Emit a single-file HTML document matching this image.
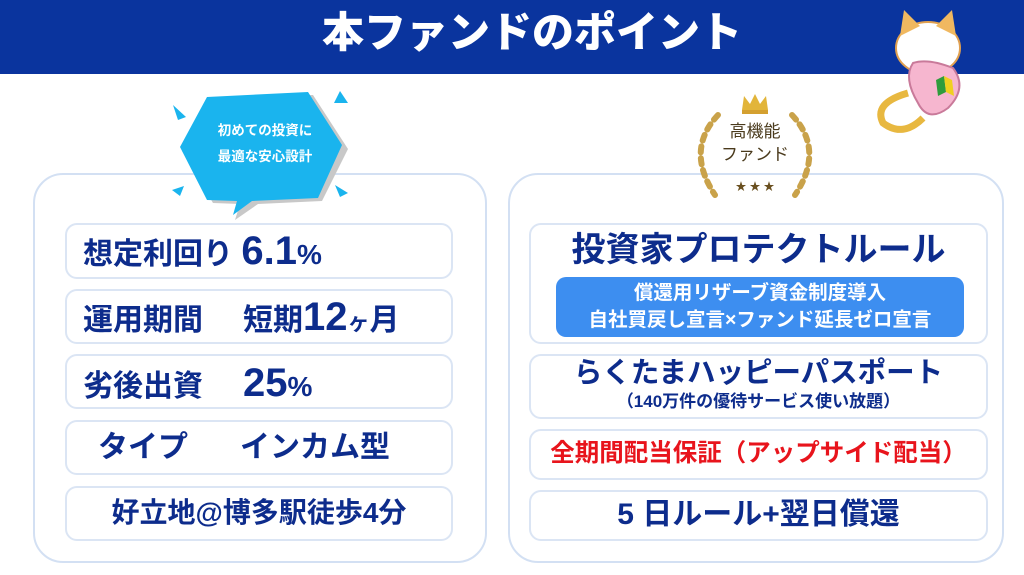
<!DOCTYPE html>
<html><head><meta charset="utf-8"><style>
*{margin:0;padding:0;box-sizing:border-box}
body{width:1024px;height:575px;background:#fff;position:relative;overflow:hidden;font-family:"Liberation Sans","Noto Sans CJK JP",sans-serif;font-weight:bold;color:#0d2c8c}
.a{position:absolute;white-space:nowrap}
.hdr{left:0;top:0;width:1024px;height:74px;background:#0a349e}
.panel{border:2px solid #d3e0f3;border-radius:30px;background:#fff}
.row{border:2px solid #dbe5f4;border-radius:12px;background:#fff}
.c{text-align:center}
</style></head><body>
<div class="a hdr"></div>
<div class="a" style="left:20px;width:1024px;top:3px;text-align:center;color:#fff;font-size:42px;line-height:60px;font-weight:900">本ファンドのポイント</div>

<div class="a panel" style="left:33px;top:173px;width:454px;height:390px"></div>
<div class="a panel" style="left:508px;top:173px;width:496px;height:390px"></div>

<!-- bubble -->
<svg class="a" style="left:170px;top:85px" width="190" height="140">
<polygon points="41,14 143,10 178,64 152,116 88,119 65,135 70,119 43,118 12,66" fill="#c8c8c8"/>
<polygon points="37,12 138,7 172,60 148,113 82,116 63,130 67,116 37,115 10,62" fill="#1ab4ee"/>
<polygon points="3,20 16,32 8,35" fill="#1ab4ee"/><polygon points="170,6 178,18 164,18" fill="#1ab4ee"/>
<polygon points="2,105 14,101 10,111" fill="#1ab4ee"/><polygon points="165,100 178,108 170,112" fill="#1ab4ee"/>
</svg>
<div class="a c" style="left:195px;top:118px;width:140px;color:#fff;font-size:13.5px;line-height:26px">初めての投資に<br>最適な安心設計</div>

<!-- left rows -->
<div class="a row" style="left:65px;top:223px;width:388px;height:56px"></div>
<div class="a row" style="left:65px;top:289px;width:388px;height:55px"></div>
<div class="a row" style="left:65px;top:354px;width:388px;height:55px"></div>
<div class="a row" style="left:65px;top:420px;width:388px;height:55px"></div>
<div class="a row" style="left:65px;top:486px;width:388px;height:55px"></div>
<div class="a" style="left:83px;top:230px;font-size:30px;line-height:42px">想定利回り <span style="font-size:40px">6.1</span><span style="font-size:28px">%</span></div>
<div class="a" style="left:83px;top:295px;font-size:30px;line-height:44px">運用期間<span style="display:inline-block;width:40px"></span>短期<span style="font-size:40px">12</span><span style="font-size:22px">ヶ</span>月</div>
<div class="a" style="left:83px;top:361px;font-size:30px;line-height:44px">劣後出資<span style="display:inline-block;width:40px"></span><span style="font-size:40px">25</span><span style="font-size:28px">%</span></div>
<div class="a" style="left:98px;top:427px;font-size:30px;line-height:42px">タイプ<span style="display:inline-block;width:52px"></span>インカム型</div>
<div class="a c" style="left:65px;width:388px;top:493px;font-size:28px;line-height:40px">好立地@博多駅徒歩4分</div>

<!-- badge -->
<svg class="a" style="left:680px;top:90px" width="150" height="112">
<g fill="none" stroke="#c9a24a" stroke-width="6" stroke-linecap="round" stroke-dasharray="6 6">
<path d="M38,25 Q5,60 35,105"/><path d="M112,25 Q145,60 115,105"/></g>
<polygon points="62,20 64,6 70,14 75,4 80,14 86,6 88,20" fill="#e2b53a"/>
<rect x="62" y="20" width="26" height="4" fill="#d4a030"/>
</svg>
<div class="a c" style="left:705px;top:120px;width:100px;color:#4a3a1c;font-size:17px;line-height:23px;font-weight:normal">高機能<br>ファンド</div>
<div class="a c" style="left:705px;top:178px;width:100px;color:#6a5020;font-size:11px">★ ★ ★</div>

<!-- cat -->
<svg class="a" style="left:868px;top:8px" width="120" height="130">
<path d="M40,85 Q5,95 15,115 Q35,130 55,110" fill="none" stroke="#e8b840" stroke-width="7"/>
<ellipse cx="60" cy="40" rx="32" ry="26" fill="#fff" stroke="#e0a050" stroke-width="2"/>
<polygon points="32,28 36,2 52,18" fill="#f0b860"/><polygon points="88,28 84,2 68,18" fill="#f0b860"/>
<path d="M45,55 Q60,50 85,60 Q100,80 80,100 Q60,115 50,95 Q35,70 45,55Z" fill="#f6b6cf" stroke="#c97a9a" stroke-width="2"/>
<polygon points="68,72 76,68 78,84 70,88" fill="#2e9c3c"/><polygon points="76,68 84,72 86,88 78,84" fill="#f0d020"/>
</svg>

<!-- right rows -->
<div class="a row" style="left:529px;top:223px;width:459px;height:121px"></div>
<div class="a c" style="left:529px;width:459px;top:227px;font-size:34px;line-height:46px">投資家プロテクトルール</div>
<div class="a c" style="left:556px;top:277px;width:408px;height:60px;background:#3d8ef0;border-radius:10px;color:#fff;font-size:19.5px;line-height:27px;padding-top:3px">償還用リザーブ資金制度導入<br>自社買戻し宣言×ファンド延長ゼロ宣言</div>

<div class="a row" style="left:529px;top:354px;width:459px;height:65px"></div>
<div class="a c" style="left:529px;width:459px;top:353px;font-size:28.5px;line-height:40px">らくたまハッピーパスポート</div>
<div class="a c" style="left:529px;width:459px;top:391px;font-size:17px;line-height:22px">（140万件の優待サービス使い放題）</div>

<div class="a row" style="left:529px;top:429px;width:459px;height:51px"></div>
<div class="a c" style="left:529px;width:459px;top:436px;font-size:24.5px;line-height:36px;color:#e8141c">全期間配当保証（アップサイド配当）</div>

<div class="a row" style="left:529px;top:490px;width:459px;height:51px"></div>
<div class="a c" style="left:529px;width:459px;top:495px;font-size:30px;line-height:40px">5 日ルール+翌日償還</div>
</body></html>
